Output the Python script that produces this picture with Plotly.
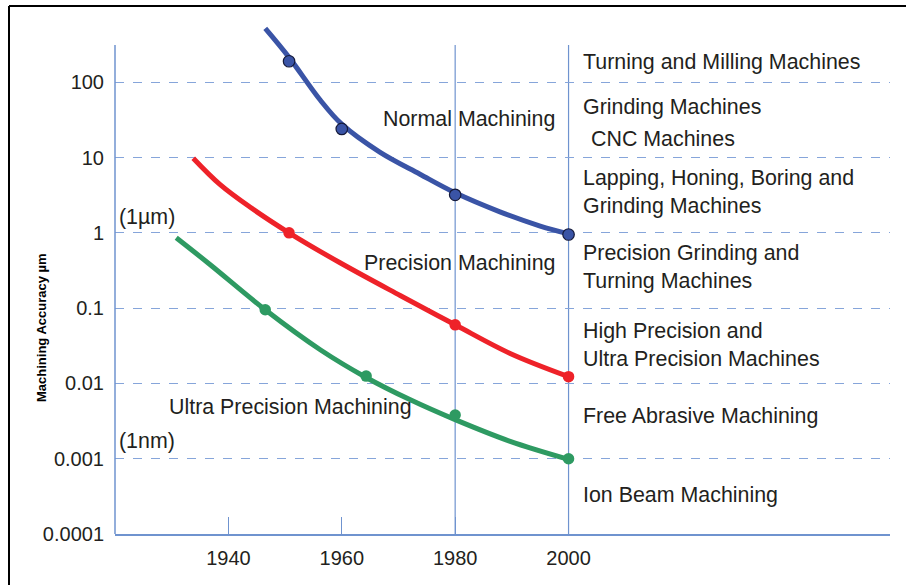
import plotly.graph_objects as go

# ---- data (years, accuracy in µm) ----
normal_curve_years = [1946.5, 1950.7, 1956.2, 1960.0, 1966.7, 1973.8, 1980.0, 1987.9, 1995.0, 2000.0]
normal_curve_vals = [519, 214, 58, 27.7, 11.8, 6.0, 3.4, 1.9, 1.23, 0.97]
normal_pts_years = [1950.7, 1960.0, 1980.0, 2000.0]
normal_pts_vals = [190, 24, 3.2, 0.95]

precision_curve_years = [1933.8, 1938.5, 1943.8, 1950.7, 1959.7, 1970.3, 1980.0, 1989.7, 2000.0]
precision_curve_vals = [9.8, 4.4, 2.2, 1.0, 0.40, 0.147, 0.060, 0.025, 0.0123]
precision_pts_years = [1950.7, 1980.0, 2000.0]
precision_pts_vals = [1.0, 0.060, 0.0123]

ultra_curve_years = [1930.8, 1936.8, 1946.5, 1956.2, 1964.3, 1972.0, 1980.0, 1989.7, 2000.0]
ultra_curve_vals = [0.86, 0.377, 0.095, 0.028, 0.012, 0.0061, 0.0033, 0.0017, 0.00098]
ultra_pts_years = [1946.5, 1964.3, 1980.0, 2000.0]
ultra_pts_vals = [0.095, 0.0125, 0.0038, 0.001]

x_ticks = [1940, 1960, 1980, 2000]
y_ticks = [1e-4, 1e-3, 1e-2, 1e-1, 1, 10, 100]
y_tick_labels = ["0.0001", "0.001", "0.01", "0.1", "1", "10", "100"]

machine_labels = [
    ("Turning and Milling Machines", 2.265, 0),
    ("Grinding Machines", 1.669, 0),
    ("CNC Machines", 1.245, 1.4),
    ("Lapping, Honing, Boring and<br>Grinding Machines", 0.543, 0),
    ("Precision Grinding and<br>Turning Machines", -0.457, 0),
    ("High Precision and<br>Ultra Precision Machines", -1.49, 0),
    ("Free Abrasive Machining", -2.437, 0),
    ("Ion Beam Machining", -3.483, 0),
]

BLUE = "#3a54a6"
RED = "#ee2229"
GREEN = "#2e9a62"
AXIS = "#6f93cf"
GRID = "#86a5da"
TXT = "#231f20"
FONT = "Arial, Liberation Sans, sans-serif"
FS = 21.4

fig = go.Figure()

def add_series(cx, cy, px, py, color, outline):
    fig.add_trace(go.Scatter(x=cx, y=cy, mode="lines",
                             line=dict(color=color, width=5, shape="spline", smoothing=1.0),
                             hoverinfo="skip", showlegend=False))
    fig.add_trace(go.Scatter(x=px, y=py, mode="markers",
                             marker=dict(color=color, size=11.5,
                                         line=dict(color=outline, width=1.2 if outline != color else 0)),
                             showlegend=False, cliponaxis=False))

add_series(normal_curve_years, normal_curve_vals, normal_pts_years, normal_pts_vals, BLUE, "#151a3a")
add_series(precision_curve_years, precision_curve_vals, precision_pts_years, precision_pts_vals, RED, RED)
add_series(ultra_curve_years, ultra_curve_vals, ultra_pts_years, ultra_pts_vals, GREEN, GREEN)

shapes = []
top_frac = (534 - 45) / 512
# y axis line and vertical lines at 1980, 2000
shapes.append(dict(type="line", xref="paper", yref="paper", x0=0, x1=0, y0=0, y1=top_frac,
                   line=dict(color=AXIS, width=1.5)))
for yr in [1980, 2000]:
    shapes.append(dict(type="line", xref="x", yref="paper", x0=yr, x1=yr, y0=0, y1=top_frac,
                       line=dict(color=AXIS, width=1.2), layer="below"))
# outer frame (top and left)
shapes.append(dict(type="line", xref="paper", yref="paper", x0=(9 - 115) / 775, x1=(910 - 115) / 775,
                   y0=(534 - 6) / 512, y1=(534 - 6) / 512, line=dict(color="black", width=2)))
shapes.append(dict(type="line", xref="paper", yref="paper", x0=(9 - 115) / 775, x1=(9 - 115) / 775,
                   y0=(534 - 6) / 512, y1=(534 - 590) / 512, line=dict(color="black", width=2)))

annotations = []
for txt, ly, dx in machine_labels:
    annotations.append(dict(x=2002.2 + dx, y=ly, xref="x", yref="y", text=txt, showarrow=False,
                            xanchor="left", yanchor="middle", align="left",
                            font=dict(size=FS, color=TXT, family=FONT)))
inner = [
    dict(x=1998.0, y=1.51, text="Normal Machining", xanchor="right"),
    dict(x=1998.0, y=-0.397, text="Precision Machining", xanchor="right"),
    dict(x=1929.2, y=-2.318, text="Ultra Precision Machining", xanchor="left"),
    dict(x=1920.4, y=0.212, text="(1µm)", xanchor="left"),
    dict(x=1920.4, y=-2.768, text="(1nm)", xanchor="left"),
]
for a in inner:
    a.update(xref="x", yref="y", showarrow=False, yanchor="middle",
             font=dict(size=FS, color=TXT, family=FONT))
annotations += inner
annotations.append(dict(x=(41 - 115) / 775, y=(534 - 328) / 512, xref="paper", yref="paper",
                        xanchor="center", yanchor="middle",
                        text="<b>Machining Accuracy µm</b>", textangle=-90, showarrow=False,
                        font=dict(size=13, color="black", family=FONT)))

fig.update_layout(
    width=906, height=585,
    margin=dict(l=115, r=16, t=22, b=51),
    paper_bgcolor="white", plot_bgcolor="white",
    font=dict(family=FONT, color=TXT),
    xaxis=dict(range=[1920, 2056.7], tickvals=x_ticks, ticktext=[str(v) for v in x_ticks],
               showline=True, linecolor=AXIS, linewidth=1.5, ticks="inside", ticklen=17,
               tickcolor=AXIS, tickwidth=1.2, showgrid=False, zeroline=False,
               ticklabelstandoff=5,
               tickfont=dict(size=20, color=TXT, family=FONT)),
    yaxis=dict(type="log", range=[-4, 2.8], tickvals=y_ticks, ticktext=y_tick_labels,
               showline=False, ticks="", showgrid=True, gridcolor=GRID, gridwidth=1,
               griddash="dash", zeroline=False, ticklabelstandoff=10,
               tickfont=dict(size=20, color=TXT, family=FONT)),
    shapes=shapes, annotations=annotations, showlegend=False,
)

fig.write_html("out.html", config={"displayModeBar": False},
               post_script="document.body.style.margin='0';")
